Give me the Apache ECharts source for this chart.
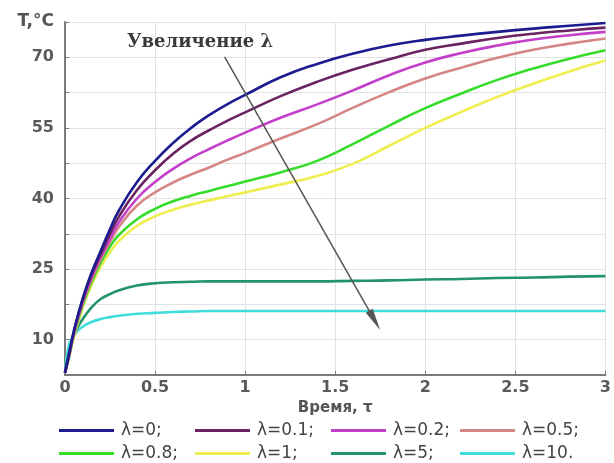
<!DOCTYPE html>
<html>
<head>
<meta charset="utf-8">
<script src="https://cdn.jsdelivr.net/npm/echarts@6/dist/echarts.min.js"></script>
<style>
  html, body { margin: 0; padding: 0; background: #fff; }
  #chart { width: 614px; height: 463px; }
</style>
</head>
<body>
<div id="chart"></div>
<script>
// Time samples (dimensionless time τ)
const timeSteps = [0, 0.02, 0.05, 0.1, 0.15, 0.2, 0.25, 0.3, 0.4, 0.5, 0.6, 0.7, 0.8, 0.9, 1.0,
                   1.2, 1.4, 1.6, 1.8, 2.0, 2.2, 2.4, 2.6, 2.8, 3.0];

// Temperature T, °C for each λ
const tempL0   = [3, 6.5, 12, 19, 24.5, 29, 33.5, 37.5, 43.5, 48, 51.8, 55, 57.7, 60, 62,
                  65.8, 68.6, 70.8, 72.5, 73.7, 74.6, 75.4, 76.1, 76.7, 77.3];
const tempL01  = [3, 6.3, 11.8, 18.7, 24, 28.3, 32.5, 36.2, 41.8, 46, 49.5, 52.3, 54.5, 56.5, 58.3,
                  61.8, 64.8, 67.4, 69.6, 71.6, 72.9, 74.1, 75, 75.7, 76.3];
const tempL02  = [3, 6.2, 11.5, 18.3, 23.5, 27.7, 31.5, 35, 40, 43.5, 46.3, 48.6, 50.5, 52.3, 54,
                  57.2, 60, 63, 66.2, 68.9, 70.9, 72.5, 73.8, 74.7, 75.4];
const tempL05  = [3, 6.1, 11.3, 18, 23, 27.2, 30.8, 34, 38.5, 41.3, 43.4, 45.1, 46.6, 48.2, 49.7,
                  52.8, 55.8, 59.3, 62.6, 65.5, 67.8, 69.9, 71.6, 72.9, 74.0];
const tempL08  = [3, 6, 11, 17.5, 22.5, 26.5, 29.8, 32.3, 35.6, 37.8, 39.4, 40.6, 41.6, 42.6, 43.6,
                  45.6, 48, 51.6, 55.5, 59.2, 62.3, 65.2, 67.6, 69.7, 71.5];
const tempL1   = [3, 5.8, 10.6, 17, 21.8, 25.6, 28.6, 31, 34.2, 36.2, 37.6, 38.7, 39.6, 40.5, 41.3,
                  43, 44.8, 47.4, 51.2, 55, 58.4, 61.6, 64.4, 67, 69.3];
const tempL5   = [3, 7, 11, 14.5, 17, 18.7, 19.7, 20.5, 21.5, 22, 22.2, 22.3, 22.4, 22.4, 22.4,
                  22.4, 22.4, 22.5, 22.6, 22.8, 22.9, 23.1, 23.2, 23.4, 23.5];
const tempL10  = [3, 8.5, 11, 12.8, 13.8, 14.4, 14.8, 15.1, 15.5, 15.7, 15.9, 16.0, 16.1, 16.1, 16.1,
                  16.1, 16.1, 16.1, 16.1, 16.1, 16.1, 16.1, 16.1, 16.1, 16.1];

const seriesNames = ['λ=0;', 'λ=0.1;', 'λ=0.2;', 'λ=0.5;', 'λ=0.8;', 'λ=1;', 'λ=5;', 'λ=10.'];
const seriesValues = [tempL0, tempL01, tempL02, tempL05, tempL08, tempL1, tempL5, tempL10];
const seriesColors = ['#1c1c90', '#6a2462', '#c33fc9', '#d58585', '#35dc2a', '#eeee50', '#23936a', '#3fdcdc'];

// Y-axis tick values that carry a label
const yLabelTicks = [10, 25, 40, 55, 70];

// Arrow "increasing λ" in data coordinates: start and arrowhead centre
const arrowStart = [0.886, 70.1];
const arrowEnd = [1.719, 14.1];

const chart = echarts.init(document.getElementById('chart'), null, { renderer: 'canvas' });

const axisFont = { fontFamily: 'DejaVu Sans', fontSize: 16, fontWeight: 'bold', color: '#5a5a5a' };

const series = seriesNames.map((name, i) => {
  const s = {
    name: name,
    type: 'line',
    smooth: true,
    showSymbol: false,
    symbol: 'none',
    data: timeSteps.map((t, k) => [t, seriesValues[i][k]]),
    lineStyle: { width: 2.6, color: seriesColors[i] },
    itemStyle: { color: seriesColors[i] },
    z: 3 + (seriesNames.length - i)
  };
  if (i === 0) {
    s.markLine = {
      silent: true,
      label: { show: false },
      lineStyle: { color: '#555', width: 1.5, type: 'solid' },
      itemStyle: { color: '#2a2a2a' },
      data: [[
        { coord: arrowStart, symbol: 'none' },
        { coord: arrowEnd, symbol: 'triangle', symbolSize: [8, 22] }
      ]],
      z: 20
    };
  }
  return s;
});

// Legend: two rows of four entries, each entry placed on its own column
const legendCols = [59, 195, 331, 460];
const legendRows = [422, 445];
const legends = seriesNames.map((name, i) => ({
  data: [name],
  left: legendCols[i % 4],
  top: legendRows[Math.floor(i / 4)],
  icon: 'rect',
  itemWidth: 55,
  itemHeight: 3,
  itemGap: 0,
  padding: 0,
  selectedMode: false,
  textStyle: { fontFamily: 'DejaVu Sans', fontSize: 17, color: '#444', padding: [0, 0, 0, 2] }
}));

chart.setOption({
  animation: false,
  backgroundColor: '#ffffff',
  grid: { left: 65, right: 7, top: 22, bottom: 88, containLabel: false },
  legend: legends,
  xAxis: {
    type: 'value',
    min: 0,
    max: 3,
    interval: 0.5,
    name: 'Время, τ',
    nameLocation: 'middle',
    nameGap: 25,
    nameTextStyle: { fontFamily: 'DejaVu Sans', fontSize: 15, fontWeight: 'bold', color: '#555' },
    axisLine: { show: true, onZero: false, lineStyle: { color: '#7a7a7a', width: 2 } },
    axisTick: { show: true, inside: true, length: 4, lineStyle: { color: '#7a7a7a' } },
    axisLabel: Object.assign({ margin: 5 }, axisFont),
    splitLine: { show: true, lineStyle: { color: '#e2e2e2', width: 1 } }
  },
  yAxis: {
    type: 'value',
    min: 2.5,
    max: 77.5,
    interval: 7.5,
    axisLine: { show: true, onZero: false, lineStyle: { color: '#7a7a7a', width: 2 } },
    axisTick: { show: true, inside: true, length: 4, lineStyle: { color: '#7a7a7a' } },
    axisLabel: Object.assign({
      margin: 11,
      formatter: v => (yLabelTicks.includes(Math.round(v * 10) / 10) ? String(Math.round(v)) : '')
    }, axisFont),
    splitLine: { show: true, lineStyle: { color: '#e2e2e2', width: 1 } }
  },
  graphic: [
    {
      type: 'text',
      x: 54,
      y: 22,
      style: {
        text: 'T,°C', fontFamily: 'DejaVu Sans', fontSize: 17, fontWeight: 'bold', fill: '#555',
        align: 'right', verticalAlign: 'middle'
      }
    },
    {
      type: 'text',
      x: 127,
      y: 42,
      z: 30,
      style: {
        text: 'Увеличение λ', fontFamily: 'DejaVu Serif', fontSize: 18, fontWeight: 'bold', fill: '#3a3a3a',
        align: 'left', verticalAlign: 'middle'
      }
    }
  ],
  series: series
});
</script>
</body>
</html>
